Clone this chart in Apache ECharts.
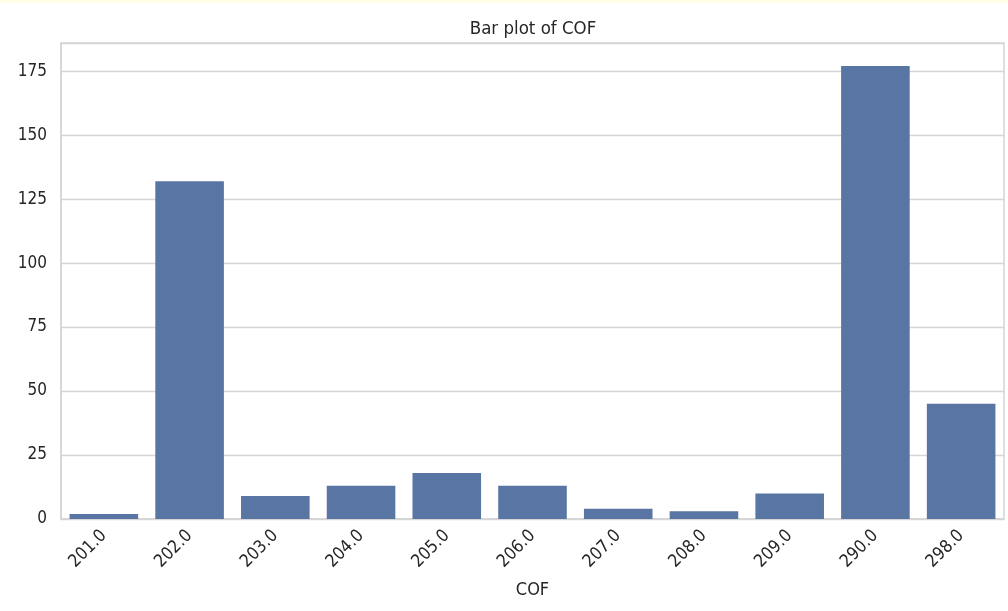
<!DOCTYPE html>
<html>
<head>
<meta charset="utf-8">
<script src="https://cdn.jsdelivr.net/npm/echarts@6/dist/echarts.min.js"></script>
<style>
  html, body { margin: 0; padding: 0; background: #fff; }
  #chart { width: 1008px; height: 611px; }
</style>
</head>
<body>
<div id="chart"></div>
<script>
// categories (COF codes) and counts
var cofCodes = ['201.0', '202.0', '203.0', '204.0', '205.0', '206.0', '207.0', '208.0', '209.0', '290.0', '298.0'];
var counts = [2, 132, 9, 13, 18, 13, 4, 3, 10, 177, 45];

var textColor = '#262626';
var lineColor = '#d5d5d5';
var font = 'DejaVu Sans Condensed';

var myChart = echarts.init(document.getElementById('chart'));
var option = {
    backgroundColor: '#ffffff',
    animation: false,
    title: {
        text: 'Bar plot of COF',
        left: 533,
        top: 20,
        padding: 0,
        textAlign: 'center',
        textStyle: { fontFamily: font, fontSize: 18.5, fontWeight: 'normal', color: textColor }
    },
    graphic: [{
        type: 'rect',
        shape: { x: 0, y: 0, width: 1008, height: 3 },
        style: { fill: '#fdfde8' }
    }],
    grid: {
        left: 61,
        right: 4,
        top: 43,
        bottom: 92,
        show: true,
        borderColor: lineColor,
        borderWidth: 1.5
    },
    xAxis: {
        type: 'category',
        data: cofCodes,
        name: 'COF',
        nameLocation: 'middle',
        nameGap: 62,
        nameTextStyle: { fontFamily: font, fontSize: 18, color: textColor },
        axisLine: { show: true, lineStyle: { color: lineColor, width: 1.5 } },
        axisTick: { show: false },
        axisLabel: {
            rotate: 45,
            margin: 14,
            fontFamily: font,
            fontSize: 17.5,
            color: textColor
        }
    },
    yAxis: {
        type: 'value',
        min: 0,
        max: 186,
        interval: 25,
        axisLine: { show: true, lineStyle: { color: lineColor, width: 1.5 } },
        axisTick: { show: false },
        axisLabel: {
            margin: 14,
            fontFamily: font,
            fontSize: 17,
            color: textColor,
            showMaxLabel: false
        },
        splitLine: { show: true, lineStyle: { color: lineColor, width: 1.3 } }
    },
    series: [{
        name: 'COF',
        type: 'bar',
        data: counts,
        barWidth: '80%',
        itemStyle: { color: '#5975a4' }
    }]
};
myChart.setOption(option);
</script>
</body>
</html>
